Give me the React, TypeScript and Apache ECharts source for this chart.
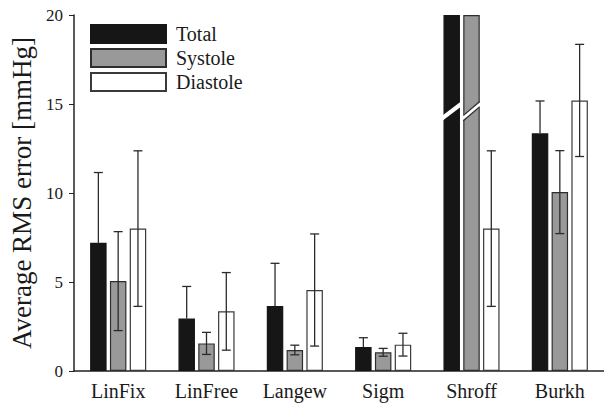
import React, { useEffect, useRef } from "react";
import * as echarts from "echarts";

const categories = ["LinFix", "LinFree", "Langew", "Sigm", "Shroff", "Burkh"];
const total = [7.2, 2.95, 3.65, 1.35, 20, 13.35];
const totalErr: (number | null)[] = [3.95, 1.8, 2.4, 0.52, null, 1.82];
const systole = [5.05, 1.55, 1.18, 1.05, 20, 10.05];
const systoleErr: (number | null)[] = [2.78, 0.62, 0.27, 0.22, null, 2.33];
const diastole = [8.0, 3.35, 4.55, 1.48, 8.0, 15.2];
const diastoleErr: (number | null)[] = [4.37, 2.18, 3.15, 0.64, 4.37, 3.15];
const yTicks = [0, 5, 10, 15, 20];
// axis-break marker level for off-scale bars (Shroff Total & Systole)
const breakAt = 14.6;
const brokenBars = [
  [4, 0],
  [4, 1],
];

const FONT = "Liberation Serif";
const BAR_W = 16.5;
const GAP = 0.2;
const STEP = BAR_W * (1 + GAP);
const offsets = [-STEP, 0, STEP];

function errData(vals: number[], errs: (number | null)[]) {
  const out: number[][] = [];
  vals.forEach((v, i) => {
    const e = errs[i];
    if (e != null) out.push([i, v, e]);
  });
  return out;
}

function errSeries(vals: number[], errs: (number | null)[], k: number) {
  return {
    type: "custom",
    z: 5,
    silent: true,
    encode: { x: 0, y: 1 },
    data: errData(vals, errs),
    renderItem: (params: any, api: any) => {
      const idx = api.value(0);
      const v = api.value(1);
      const e = api.value(2);
      const t = api.coord([idx, v + e]);
      const b = api.coord([idx, v - e]);
      const m = api.coord([idx, v]);
      const x = t[0] + offsets[k];
      const cw = 4.5;
      const st = { stroke: "#2b2b2b", lineWidth: 1.3 };
      const children: any[] = [
        { type: "line", shape: { x1: x, y1: t[1], x2: x, y2: k === 0 ? m[1] : b[1] }, style: st },
        { type: "line", shape: { x1: x - cw, y1: t[1], x2: x + cw, y2: t[1] }, style: st },
      ];
      if (k !== 0) {
        children.push({ type: "line", shape: { x1: x - cw, y1: b[1], x2: x + cw, y2: b[1] }, style: st });
      }
      return { type: "group", children };
    },
  };
}

export default function App() {
  const ref = useRef<HTMLDivElement>(null);
  useEffect(() => {
    if (!ref.current) return;
    const chart = echarts.init(ref.current, null, { renderer: "svg" });
    const barSeries = (name: string, data: number[], color: string, border: string) => ({
      name,
      type: "bar",
      data,
      barWidth: BAR_W,
      barGap: GAP * 100 + "%",
      itemStyle: { color, borderColor: border, borderWidth: 1.2 },
      z: 2,
    });
    chart.setOption({
      animation: false,
      backgroundColor: "#ffffff",
      textStyle: { fontFamily: FONT },
      grid: { left: 72, right: -2, top: 15, bottom: 33, containLabel: false },
      legend: {
        orient: "vertical",
        left: 90,
        top: 24,
        padding: 0,
        itemWidth: 75,
        itemHeight: 18,
        itemGap: 4,
        selectedMode: false,
        icon: "rect",
        textStyle: { fontFamily: FONT, fontSize: 20, color: "#1a1a1a", padding: [0, 0, 0, 5] },
        data: ["Total", "Systole", "Diastole"],
      },
      xAxis: {
        type: "category",
        data: categories,
        axisLine: { lineStyle: { color: "#222", width: 1.5 } },
        axisTick: { alignWithLabel: true, length: 5, lineStyle: { color: "#222" } },
        axisLabel: { fontFamily: FONT, fontSize: 20, color: "#1a1a1a", margin: 10, interval: 0 },
      },
      yAxis: {
        type: "value",
        min: yTicks[0],
        max: yTicks[yTicks.length - 1],
        interval: 5,
        splitLine: { show: false },
        axisLine: { show: true, lineStyle: { color: "#222", width: 1.5 } },
        axisTick: { show: true, length: 5, lineStyle: { color: "#222" } },
        axisLabel: { fontFamily: FONT, fontSize: 17, color: "#1a1a1a", margin: 11 },
        name: "Average RMS error [mmHg]",
        nameLocation: "middle",
        nameGap: 39,
        nameTextStyle: { fontFamily: FONT, fontSize: 27, color: "#1a1a1a" },
      },
      series: [
        barSeries("Total", total, "#161616", "#161616"),
        barSeries("Systole", systole, "#999999", "#2e2e2e"),
        barSeries("Diastole", diastole, "#ffffff", "#3a3a3a"),
        errSeries(total, totalErr, 0),
        errSeries(systole, systoleErr, 1),
        errSeries(diastole, diastoleErr, 2),
        {
          type: "custom",
          z: 6,
          silent: true,
          encode: { x: 0, y: 1 },
          data: brokenBars.map(([i, k]) => [i, breakAt, k]),
          renderItem: (params: any, api: any) => {
            const idx = api.value(0);
            const k = api.value(2);
            const c = api.coord([idx, api.value(1)]);
            const xc = c[0] + offsets[k];
            const x0 = xc - BAR_W / 2 - 1;
            const x1 = xc + BAR_W / 2 + 1;
            const rise = 7;
            const th = 2.6;
            const children: any[] = [
              {
                type: "polygon",
                shape: {
                  points: [
                    [x0, c[1] + rise - th],
                    [x1, c[1] - rise - th],
                    [x1, c[1] - rise + th],
                    [x0, c[1] + rise + th],
                  ],
                },
                style: { fill: "#ffffff" },
              },
            ];
            if (k === 1) {
              const st = { stroke: "#2e2e2e", lineWidth: 1.2 };
              children.push(
                { type: "line", shape: { x1: x0 + 1, y1: c[1] + rise - th, x2: x1 - 1, y2: c[1] - rise - th }, style: st },
                { type: "line", shape: { x1: x0 + 1, y1: c[1] + rise + th, x2: x1 - 1, y2: c[1] - rise + th }, style: st }
              );
            }
            return { type: "group", children };
          },
        },
      ],
    });
    return () => chart.dispose();
  }, []);
  return (
    <div
      ref={ref}
      style={{ position: "fixed", left: 0, top: 0, width: 604, height: 404, background: "#fff" }}
    />
  );
}
